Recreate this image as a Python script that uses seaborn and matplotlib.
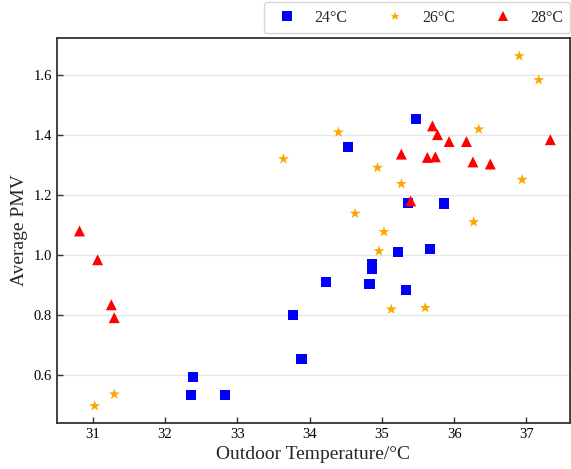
import pandas as pd
import matplotlib.pyplot as plt
import seaborn as sns

# 24°C
t24_x = [32.36, 32.39, 32.83, 33.77, 33.89, 34.23, 34.83, 34.86, 34.86, 35.22, 35.33, 35.67, 35.36, 35.86, 34.53, 35.47]
t24_y = [0.533, 0.593, 0.533, 0.800, 0.653, 0.910, 0.903, 0.953, 0.970, 1.010, 0.883, 1.020, 1.174, 1.172, 1.359, 1.453]
# 26°C
t26_x = [31.03, 31.30, 33.64, 34.40, 34.94, 35.27, 34.63, 35.03, 34.96, 36.34, 36.94, 36.27, 36.90, 37.17, 35.13, 35.60]
t26_y = [0.497, 0.536, 1.320, 1.409, 1.291, 1.237, 1.138, 1.077, 1.013, 1.419, 1.251, 1.110, 1.663, 1.583, 0.819, 0.824]
# 28°C
t28_x = [30.82, 31.07, 31.26, 31.30, 35.70, 35.77, 35.93, 36.17, 37.33, 35.27, 35.63, 35.74, 36.26, 36.50, 35.40]
t28_y = [1.080, 0.984, 0.834, 0.791, 1.430, 1.401, 1.378, 1.378, 1.384, 1.336, 1.325, 1.327, 1.310, 1.303, 1.180]

groups = ['24°C', '26°C', '28°C']

df = pd.concat([
    pd.DataFrame({'temp': t24_x, 'pmv': t24_y, 'group': groups[0]}),
    pd.DataFrame({'temp': t26_x, 'pmv': t26_y, 'group': groups[1]}),
    pd.DataFrame({'temp': t28_x, 'pmv': t28_y, 'group': groups[2]}),
])

sns.set_theme(style='whitegrid')
plt.rcParams['font.family'] = ['Liberation Serif', 'DejaVu Serif']

fig, ax = plt.subplots(figsize=(5.71, 4.69), dpi=100)
sns.scatterplot(data=df, x='temp', y='pmv', hue='group', style='group', size='group',
                palette={'24°C': 'blue', '26°C': 'orange', '28°C': 'red'},
                markers={'24°C': 's', '26°C': '*', '28°C': '^'},
                sizes={'24°C': 55, '26°C': 70, '28°C': 62},
                linewidth=0, ax=ax)

ax.set_xlim(30.51, 37.6)
ax.set_ylim(0.44, 1.723)
ax.set_xticks([31, 32, 33, 34, 35, 36, 37])
ax.set_yticks([0.6, 0.8, 1.0, 1.2, 1.4, 1.6])
ax.set_yticklabels(['0.6', '0.8', '1.0', '1.2', '1.4', '1.6'])
ax.grid(axis='x', visible=False)
ax.grid(axis='y', color='#e6e6e6', linewidth=1)
ax.tick_params(direction='in', length=4, width=1, colors='#333333', labelsize=10.5,
               labelcolor='black', bottom=True, left=True)
for sp in ax.spines.values():
    sp.set_color('#333333')
    sp.set_linewidth(1.3)
ax.set_xlabel('Outdoor Temperature/°C', fontsize=14)
ax.set_ylabel('Average PMV', fontsize=14)

handles, labels = ax.get_legend_handles_labels()
for h in handles:
    h.set_markersize(6.5)
ax.legend(handles, labels, loc='lower right', bbox_to_anchor=(1.016, 0.993), ncol=3,
          frameon=True, fontsize=11.5, handletextpad=0.7, columnspacing=2.0,
          borderpad=0.45, edgecolor='#cccccc')

fig.subplots_adjust(left=0.1, right=0.998, top=0.919, bottom=0.098)
fig.savefig('out.png', dpi=100)
